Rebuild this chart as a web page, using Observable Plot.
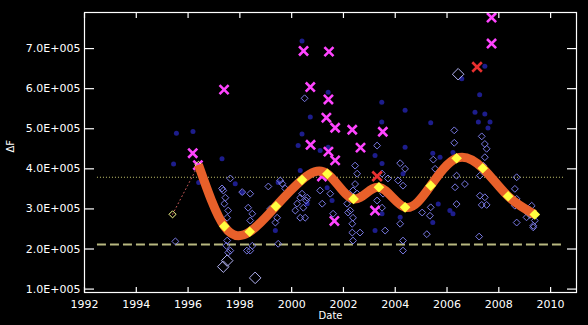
<!DOCTYPE html>
<html>
<head>
<meta charset="utf-8">
<script src="https://cdn.jsdelivr.net/npm/d3@7"></script>
<script src="https://cdn.jsdelivr.net/npm/@observablehq/plot@0.6"></script>
<style>
  html, body { margin: 0; padding: 0; background: #000; }
  #chart { width: 588px; height: 325px; overflow: hidden; }
</style>
</head>
<body>
<div id="chart"></div>
<script>
// ---- Data ----
const xTicks = [1992, 1994, 1996, 1998, 2000, 2002, 2004, 2006, 2008, 2010];
const yTicks = [100000, 200000, 300000, 400000, 500000, 600000, 700000];

const dottedLevel = 379000;
const dashedLevel = 211000;
const levelSpan = [1992.5, 2010.5];

// open (lavender) diamonds, small
const openYears = [1995.51,1997.63,1997.36,1997.44,1997.40,1997.55,1997.51,1997.51,1997.63,1997.48,1997.55,1997.31,
  1998.40,1998.32,1998.48,1998.40,1998.40,1998.48,1998.09,1998.27,
  1999.10,1999.56,1999.64,1999.44,1999.37,1999.48,1999.75,1999.17,
  2000.21,2000.33,2000.45,2000.60,2000.14,2000.33,2000.40,2000.56,2000.52,2000.50,
  2001.10,2001.18,2001.49,2001.60,
  2002.14,2002.26,2002.37,2002.34,2002.64,2002.34,2002.37,2002.45,2002.53,2002.45,2002.37,2002.53,2002.18,
  2003.49,2003.53,2003.30,2003.61,2003.49,2003.72,2003.30,
  2004.30,2004.30,2004.19,2004.19,2004.38,2004.30,2004.11,
  2005.04,2005.34,2005.22,2005.47,2005.54,2005.37,
  2006.28,2006.28,2006.31,2006.37,2006.69,2006.37,
  2007.34,2007.46,2007.53,2007.46,2007.24,2007.27,2007.46,2007.34,2007.53,2007.40,2007.27,
  2008.69,2008.62,2008.69,2008.62,2008.69,
  2009.07,2009.27,2009.33,2009.39,2009.33];
const openValues = [219000,376000,346000,328000,313000,296000,278000,221000,196000,208000,191000,351000,
  338000,303000,288000,271000,196000,208000,342000,196000,
  356000,371000,363000,278000,266000,213000,351000,300000,
  313000,328000,303000,328000,296000,278000,338000,321000,278000,576000,
  346000,313000,338000,288000,
  313000,296000,278000,263000,241000,241000,221000,408000,388000,362000,346000,338000,291000,
  388000,338000,321000,246000,303000,376000,458000,
  221000,196000,263000,414000,400000,358000,371000,
  291000,283000,237000,423000,400000,304000,
  496000,465000,354000,312000,362000,383000,
  481000,462000,450000,429000,231000,333000,329000,310000,310000,408000,383000,
  379000,350000,325000,308000,266000,
  279000,308000,258000,271000,254000];

// open diamonds, large
const bigYears = [1997.51, 1997.36, 1998.59, 2006.43, 2009.20];
const bigValues = [171000, 156000, 128000, 636000, 291000];

// filled dark-blue dots
const dotYears = [1995.55,1996.19,1997.31,1995.44,1996.41,1997.82,1998.09,1999.48,1999.37,2001.37,2001.56,2000.60,
  2003.22,2003.49,2000.33,2000.25,2003.49,2004.30,2004.19,2000.40,2001.41,2000.72,2000.40,2000.25,
  2003.48,2004.38,2003.48,2004.38,2003.22,2001.41,2001.10,2006.57,2007.46,2007.26,2007.08,2007.46,
  2007.21,2007.66,2007.58,2005.37,2005.45,2005.73,2006.23,2006.11,2006.23,2005.66,2005.45];
const dotValues = [489000,493000,425000,412000,366000,363000,341000,366000,246000,353000,321000,313000,
  246000,288000,396000,371000,413000,388000,279000,719000,591000,529000,487000,458000,
  566000,546000,517000,454000,433000,454000,446000,625000,656000,585000,541000,537000,
  517000,517000,502000,515000,439000,429000,441000,296000,288000,312000,266000];

// magenta crosses
const crossYears = [1996.18,1996.38,1997.39,2000.46,2001.44,2000.72,2001.42,2001.34,2001.68,2002.34,2003.52,
  2000.73,2002.66,2001.42,2001.68,2001.17,2003.22,2001.65,2007.72,2007.72];
const crossValues = [439000,409000,597500,694000,692500,604000,573000,527500,502500,497500,492500,
  460000,453000,443000,421000,381000,296000,270000,777500,712500];

// red crosses
const redYears = [2007.16, 2003.30];
const redValues = [654000, 381500];

// yearly mean curve (orange) with yellow markers
const meanYears = [1996.40,1997.40,1998.38,1999.39,2000.40,2001.38,2002.39,2003.37,2004.38,2005.37,2006.37,2007.38,2008.36,2009.39];
const meanValues = [410000,256500,243000,306500,372500,387500,325000,354000,304000,358000,426500,401500,331500,286000];

// early open yellow markers joined by thin dotted line
const earlyYears = [1995.40, 1996.40];
const earlyValues = [286500, 410000];

// ---- Build tables ----
const zip = (xs, ys) => xs.map((x, i) => ({x, y: ys[i]}));
const open = zip(openYears, openValues);
const big = zip(bigYears, bigValues);
const dots = zip(dotYears, dotValues);
const crosses = zip(crossYears, crossValues);
const reds = zip(redYears, redValues);
const mean = zip(meanYears, meanValues);
const early = zip(earlyYears, earlyValues);

const fmtE = d => (d / 100000).toFixed(1) + "E+005";

const chart = Plot.plot({
  width: 588,
  height: 325,
  marginLeft: 84,
  marginRight: 12,
  marginTop: 12,
  marginBottom: 33,
  style: {background: "#000", color: "#fff", fontFamily: "DejaVu Sans", fontSize: "11px"},
  x: {domain: [1992, 2011]},
  y: {domain: [91500, 790000]},
  marks: [
    Plot.ruleY([dottedLevel], {x1: levelSpan[0], x2: levelSpan[1], stroke: "#c8c870", strokeWidth: 1.2, strokeDasharray: "1,2"}),
    Plot.ruleY([dashedLevel], {x1: levelSpan[0], x2: levelSpan[1], stroke: "#b8b880", strokeWidth: 2, strokeDasharray: "9,4"}),
    Plot.dot(dots, {x: "x", y: "y", r: 2.5, fill: "#2222a4", stroke: "none", fillOpacity: 0.85}),
    Plot.dot(open, {x: "x", y: "y", symbol: "diamond2", r: 3.1, stroke: "#7a7ae4", strokeWidth: 1, fill: "none"}),
    Plot.dot(big, {x: "x", y: "y", symbol: "diamond2", r: 5.2, stroke: "#b4b4f4", strokeWidth: 1, fill: "none"}),
    Plot.dot(crosses, {x: "x", y: "y", symbol: "times", r: 4.2, stroke: "#ff44ff", strokeWidth: 2.6}),
    Plot.line(early, {x: "x", y: "y", stroke: "#c85a5a", strokeWidth: 1, strokeDasharray: "1,3"}),
    Plot.dot(early, {x: "x", y: "y", symbol: "diamond2", r: 3.2, stroke: "#ffff90", strokeWidth: 1, fill: "none"}),
    Plot.line(mean, {x: "x", y: "y", curve: "natural", stroke: "#e8602a", strokeWidth: 9, strokeLinecap: "butt"}),
    Plot.dot(mean.slice(1), {x: "x", y: "y", symbol: "diamond2", r: 4.8, fill: "#ffff40", stroke: "none"}),
    Plot.dot(reds, {x: "x", y: "y", symbol: "times", r: 4.4, stroke: "#e83030", strokeWidth: 2.6}),
    Plot.frame({stroke: "#fff", strokeWidth: 1.2}),
    Plot.axisX({ticks: xTicks, tickSize: 0, tickPadding: 8, tickFormat: d => String(d), label: null}),
    Plot.axisX({ticks: xTicks, anchor: "bottom", tickSize: -5, tickFormat: () => "", label: null, strokeWidth: 1.2}),
    Plot.axisX({ticks: xTicks, anchor: "top", tickSize: -5, tickFormat: () => "", label: null, strokeWidth: 1.2}),
    Plot.axisY({ticks: yTicks, tickSize: 0, tickPadding: 4, tickFormat: fmtE, label: null}),
    Plot.axisY({ticks: yTicks, anchor: "left", tickSize: -10, tickFormat: () => "", label: null, strokeWidth: 1.2}),
    Plot.axisY({ticks: yTicks, anchor: "right", tickSize: -10, tickFormat: () => "", label: null, strokeWidth: 1.2}),
    Plot.text(["Date"], {frameAnchor: "bottom", dy: 26, text: d => d, fill: "#fff", fontSize: 10}),
    Plot.text(["ΔF"], {frameAnchor: "left", dx: -74, rotate: -90, text: d => d, fill: "#fff", fontSize: 10})
  ]
});
document.getElementById("chart").appendChild(chart);
</script>
</body>
</html>
